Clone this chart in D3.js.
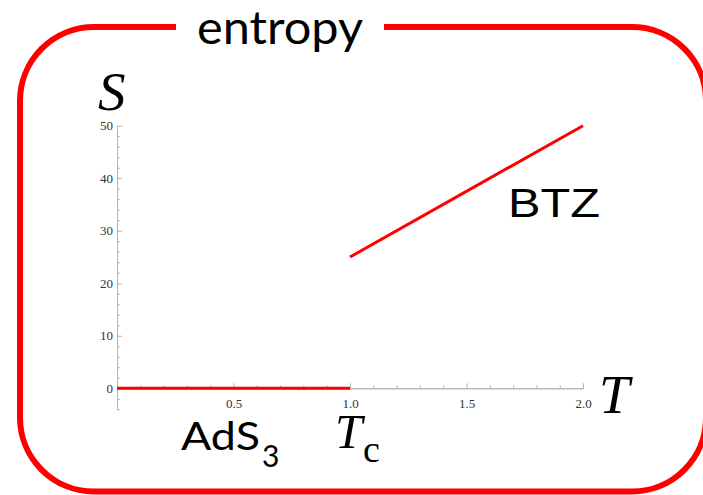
<!DOCTYPE html>
<html>
<head>
<meta charset="utf-8">
<script src="https://cdn.jsdelivr.net/npm/d3@7"></script>
<style>
  html, body { margin: 0; padding: 0; background: #fff; }
  svg { display: block; }
</style>
</head>
<body>
<svg id="chart" width="703" height="495"></svg>
<script>
// ---- data ----
const adsT = [0, 1];
const adsS = [0, 0];
const btzT = [1, 2];
const btzS = [25, 50];
const xMajorTicks = [0.5, 1.0, 1.5, 2.0];
const xTickLabels = ["0.5", "1.0", "1.5", "2.0"];
const xMinorTicks = [0.1, 0.2, 0.3, 0.4, 0.6, 0.7, 0.8, 0.9, 1.1, 1.2, 1.3, 1.4, 1.6, 1.7, 1.8, 1.9];
const yMajorTicks = [0, 10, 20, 30, 40, 50];
const yTickLabels = ["0", "10", "20", "30", "40", "50"];
const yMinorTicks = [-4, -2, 2, 4, 6, 8, 12, 14, 16, 18, 22, 24, 26, 28, 32, 34, 36, 38, 42, 44, 46, 48];
const xDomain = [0, 2];
const yDomain = [-4, 50];

// ---- layout ----
const svg = d3.select("#chart");
const x = d3.scaleLinear().domain(xDomain).range([117, 583]);
const y = d3.scaleLinear().domain(yDomain).range([409.3, 125.7]);
const red = "#ff0000";
const axisGray = "#b4b4b4";

// frame
svg.append("rect")
  .attr("x", 20).attr("y", 27)
  .attr("width", 686).attr("height", 464.5)
  .attr("rx", 74).attr("ry", 74)
  .attr("fill", "none").attr("stroke", red).attr("stroke-width", 6);
svg.append("rect")
  .attr("x", 176).attr("y", 18).attr("width", 208).attr("height", 18)
  .attr("fill", "#fff");
svg.append("text")
  .attr("x", 197).attr("y", 44)
  .attr("font-family", "Lato, 'Open Sans', sans-serif")
  .attr("font-size", 46)
  .attr("textLength", 166).attr("lengthAdjust", "spacingAndGlyphs")
  .attr("fill", "#000")
  .text("entropy");

// axes
const tickFont = "'Liberation Serif', 'DejaVu Serif', serif";
const gx = svg.append("g").attr("transform", `translate(0,${y(0)})`)
  .call(d3.axisBottom(x).tickValues(xMajorTicks)
    .tickFormat((d, i) => xTickLabels[i]).tickSize(-5).tickSizeOuter(0).tickPadding(10));
const gxMinor = svg.append("g").attr("transform", `translate(0,${y(0)})`)
  .call(d3.axisBottom(x).tickValues(xMinorTicks).tickFormat("").tickSize(-3).tickSizeOuter(0));
const gy = svg.append("g").attr("transform", `translate(${x(0)},0)`)
  .call(d3.axisLeft(y).tickValues(yMajorTicks)
    .tickFormat((d, i) => yTickLabels[i]).tickSize(-5).tickSizeOuter(0).tickPadding(4));
const gyMinor = svg.append("g").attr("transform", `translate(${x(0)},0)`)
  .call(d3.axisLeft(y).tickValues(yMinorTicks).tickFormat("").tickSize(-3).tickSizeOuter(0));

[gx, gxMinor, gy, gyMinor].forEach(g => {
  g.attr("font-family", tickFont);
  g.selectAll(".domain").attr("stroke", axisGray).attr("stroke-width", 1);
  g.selectAll(".tick line").attr("stroke", axisGray).attr("stroke-width", 1);
  g.selectAll(".tick text")
    .attr("font-family", tickFont).attr("font-size", 13).attr("fill", "#333");
});

// series
const line = d3.line().x(d => x(d[0])).y(d => y(d[1]));
svg.append("path")
  .datum(adsT.map((t, i) => [t, adsS[i]]))
  .attr("d", line).attr("fill", "none").attr("stroke", red).attr("stroke-width", 3);
svg.append("path")
  .datum(btzT.map((t, i) => [t, btzS[i]]))
  .attr("d", line).attr("fill", "none").attr("stroke", red).attr("stroke-width", 3);

// labels
const serif = "'Liberation Serif', 'DejaVu Serif', serif";
svg.append("text").attr("x", 98).attr("y", 110)
  .attr("font-family", serif).attr("font-style", "italic").attr("font-size", 55)
  .text("S");
svg.append("text").attr("x", 599).attr("y", 413)
  .attr("font-family", serif).attr("font-style", "italic").attr("font-size", 55)
  .text("T");
svg.append("text").attr("x", 335).attr("y", 448)
  .attr("font-family", serif).attr("font-style", "italic").attr("font-size", 49)
  .text("T");
svg.append("text").attr("x", 363).attr("y", 462)
  .attr("font-family", serif).attr("font-size", 38)
  .text("c");
svg.append("text").attr("x", 508).attr("y", 217)
  .attr("font-family", "'Liberation Sans', Arial, sans-serif").attr("font-size", 41)
  .attr("textLength", 92).attr("lengthAdjust", "spacingAndGlyphs")
  .text("BTZ");
svg.append("text").attr("x", 181).attr("y", 450)
  .attr("font-family", "Lato, 'Open Sans', sans-serif").attr("font-size", 39)
  .attr("textLength", 79).attr("lengthAdjust", "spacingAndGlyphs")
  .text("AdS");
svg.append("text").attr("x", 262).attr("y", 467)
  .attr("font-family", "Lato, 'Open Sans', sans-serif").attr("font-size", 30)
  .text("3");
</script>
</body>
</html>
